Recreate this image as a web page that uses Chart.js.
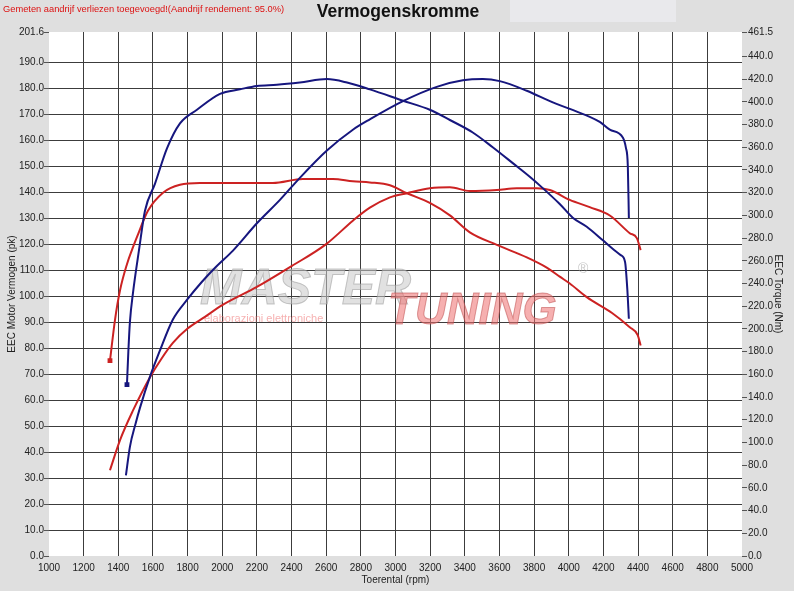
<!DOCTYPE html>
<html lang="nl">
<head>
    <meta charset="UTF-8">
    <title>Vermogenskromme</title>
    <script src="https://cdn.jsdelivr.net/npm/chart.js"></script>
    <style>
        body {
            margin: 0;
            background-color: #dfdfdf;
        }
        #wrap {
            width: 794px;
            height: 591px;
            position: relative;
        }
    </style>
</head>
<body>
    <div id="wrap"><canvas id="chart"></canvas></div>

    <script>
        // Blue run: torque (Nm, right axis) and power (pk, left axis)
        const blueTorqueRpm = [1450, 1458, 1467, 1485, 1520, 1554, 1612, 1681, 1756, 1854, 1987, 2102, 2200, 2315, 2448, 2604, 2720, 2852, 3043, 3198, 3314, 3446, 3561, 3677, 3775, 3850, 3948, 4023, 4104, 4197, 4250, 4300, 4325, 4338, 4347];
        const blueTorqueNm = [151, 180, 206, 232, 270, 304, 328, 359, 381, 393, 407, 411, 414, 415, 417, 420, 417, 411, 401, 393, 384, 373, 360, 346, 334, 324, 310, 298, 290, 278, 271, 265, 259, 235, 209];

        const bluePowerRpm = [1444, 1467, 1500, 1525, 1583, 1640, 1715, 1796, 1883, 1960, 2062, 2200, 2333, 2448, 2604, 2754, 2852, 3043, 3238, 3389, 3504, 3602, 3758, 3908, 4006, 4179, 4237, 4312, 4330, 4341, 4347];
        const bluePowerPk = [31, 42, 51, 57, 69, 79, 91, 98.5, 105.5, 111, 117.5, 128, 137, 145.5, 156, 164, 168, 175, 180.5, 183, 183.5, 182.7, 179, 174.5, 172, 167, 164, 161, 157, 150, 130];

        // Red run: torque (Nm, right axis) and power (pk, left axis)
        const redTorqueRpm = [1352, 1381, 1410, 1450, 1480, 1508, 1571, 1658, 1756, 1871, 2062, 2292, 2465, 2639, 2754, 2852, 2968, 3066, 3198, 3314, 3429, 3585, 3758, 3873, 3948, 4006, 4104, 4250, 4352, 4398, 4415];
        const redTorqueNm = [172, 208, 234, 257, 270, 281, 304, 320, 327, 328.5, 328.5, 328.5, 332, 332, 330, 329, 326.5, 319.5, 311, 300, 285, 274, 263, 254, 246, 240, 228, 214, 201.5, 194.6, 185.4];

        const redPowerRpm = [1352, 1410, 1485, 1583, 1650, 1715, 1800, 1900, 2000, 2200, 2400, 2600, 2754, 2852, 2968, 3066, 3198, 3314, 3429, 3585, 3700, 3816, 3891, 4006, 4121, 4237, 4352, 4393, 4415];
        const redPowerPk = [33, 44.6, 56, 68.8, 76, 82, 87.5, 92, 96.5, 103.5, 111.5, 120, 129, 134, 138, 139.6, 141.5, 141.9, 140.4, 140.8, 141.5, 141.5, 140.8, 137, 134.2, 131, 124.2, 122.3, 117.7];

        // Axis ticks
        const rpmTicks = [1000, 1200, 1400, 1600, 1800, 2000, 2200, 2400, 2600, 2800, 3000, 3200, 3400, 3600, 3800, 4000, 4200, 4400, 4600, 4800, 5000];
        const pkTicks = [0, 10, 20, 30, 40, 50, 60, 70, 80, 90, 100, 110, 120, 130, 140, 150, 160, 170, 180, 190, 201.6];
        const nmTicks = [0, 20, 40, 60, 80, 100, 120, 140, 160, 180, 200, 220, 240, 260, 280, 300, 320, 340, 360, 380, 400, 420, 440, 461.5];

        const chartTitle = 'Vermogenskromme';
        const noteText = 'Gemeten aandrijf verliezen toegevoegd!(Aandrijf rendement: 95.0%)';

        const BLUE = '#16167e';
        const RED = '#cc2222';
        const FONT = 'Liberation Sans, Arial, sans-serif';

        function points(xs, ys) {
            return xs.map((x, i) => ({ x: x, y: ys[i] }));
        }

        // gray frame, white plot area, header texts and the watermark logo
        const decor = {
            id: 'decor',
            beforeDraw(chart) {
                const c = chart.ctx;
                const a = chart.chartArea;
                c.save();
                c.fillStyle = '#dfdfdf';
                c.fillRect(0, 0, chart.width, chart.height);
                c.fillStyle = '#e9e9ec';
                c.fillRect(510, 0, 166, 22);
                c.fillStyle = '#ffffff';
                c.fillRect(a.left, a.top, a.right - a.left, a.bottom - a.top);
                c.restore();
            },
            beforeDatasetsDraw(chart) {
                const c = chart.ctx;
                c.save();
                c.globalAlpha = 0.55;
                c.font = 'italic bold 50px ' + FONT;
                c.textBaseline = 'alphabetic';
                c.fillStyle = '#c8c8c8';
                c.strokeStyle = '#9a9a9a';
                c.lineWidth = 1;
                c.fillText('MASTER', 200, 304);
                c.strokeText('MASTER', 200, 304);
                c.font = 'italic bold 44px ' + FONT;
                c.fillStyle = '#ee7070';
                c.strokeStyle = '#c05050';
                c.fillText('TUNING', 388, 324);
                c.strokeText('TUNING', 388, 324);
                c.font = '11px ' + FONT;
                c.fillStyle = '#ee7070';
                c.fillText('elaborazioni elettroniche', 204, 322);
                c.font = '14px ' + FONT;
                c.fillStyle = '#999999';
                c.fillText('\u00AE', 578, 273);
                c.restore();
            },
            afterDraw(chart) {
                const c = chart.ctx;
                c.save();
                c.textBaseline = 'middle';
                c.fillStyle = '#111111';
                c.font = 'bold 17.5px ' + FONT;
                c.textAlign = 'center';
                c.fillText(chartTitle, 398, 12);
                c.fillStyle = '#dd1111';
                c.font = '9.3px ' + FONT;
                c.textAlign = 'left';
                c.fillText(noteText, 3, 9);
                c.restore();
            }
        };

        const tickFont = { family: FONT, size: 10 };
        const hideEdges = (edges) => (ctx) => {
            if (ctx.tick && edges.includes(ctx.tick.value)) return 'rgba(0,0,0,0)';
            return '#3c3c3c';
        };

        const ctx = document.getElementById('chart').getContext('2d');
        const chart = new Chart(ctx, {
            type: 'line',
            data: {
                datasets: [
                    {
                        label: 'Blue torque',
                        data: points(blueTorqueRpm, blueTorqueNm),
                        yAxisID: 'y1',
                        borderColor: BLUE,
                        borderWidth: 2,
                        pointRadius: (c) => c.dataIndex === 0 ? 2 : 0,
                        pointStyle: 'rect',
                        pointBackgroundColor: BLUE,
                        cubicInterpolationMode: 'monotone'
                    },
                    {
                        label: 'Blue power',
                        data: points(bluePowerRpm, bluePowerPk),
                        yAxisID: 'y',
                        borderColor: BLUE,
                        borderWidth: 2,
                        pointRadius: 0,
                        cubicInterpolationMode: 'monotone'
                    },
                    {
                        label: 'Red torque',
                        data: points(redTorqueRpm, redTorqueNm),
                        yAxisID: 'y1',
                        borderColor: RED,
                        borderWidth: 2,
                        pointRadius: (c) => c.dataIndex === 0 ? 2 : 0,
                        pointStyle: 'rect',
                        pointBackgroundColor: RED,
                        cubicInterpolationMode: 'monotone'
                    },
                    {
                        label: 'Red power',
                        data: points(redPowerRpm, redPowerPk),
                        yAxisID: 'y',
                        borderColor: RED,
                        borderWidth: 2,
                        pointRadius: 0,
                        cubicInterpolationMode: 'monotone'
                    }
                ]
            },
            options: {
                responsive: true,
                maintainAspectRatio: false,
                animation: false,
                layout: { padding: { top: 32, left: 0, right: 0, bottom: 0 } },
                plugins: {
                    legend: { display: false },
                    tooltip: { enabled: false }
                },
                scales: {
                    x: {
                        type: 'linear',
                        min: 1000,
                        max: 5000,
                        afterBuildTicks: (s) => { s.ticks = rpmTicks.map(v => ({ value: v })); },
                        afterFit: (s) => { s.height = 35; },
                        border: { display: false },
                        grid: { color: hideEdges([1000, 5000]), lineWidth: 1, drawTicks: false },
                        ticks: {
                            font: tickFont,
                            color: '#222',
                            padding: 6,
                            maxRotation: 0,
                            autoSkip: false,
                            callback: (v) => String(v)
                        },
                        title: {
                            display: true,
                            text: 'Toerental (rpm)',
                            font: tickFont,
                            color: '#222',
                            padding: { top: 0, bottom: 5 }
                        }
                    },
                    y: {
                        position: 'left',
                        min: 0,
                        max: 201.6,
                        afterBuildTicks: (s) => { s.ticks = pkTicks.map(v => ({ value: v })); },
                        afterFit: (s) => { s.width = 49; },
                        border: { display: false },
                        grid: { color: hideEdges([0, 201.6]), tickColor: '#555', tickLength: 5, lineWidth: 1 },
                        ticks: {
                            font: tickFont,
                            color: '#222',
                            padding: 0,
                            autoSkip: false,
                            callback: (v) => Number(v).toFixed(1)
                        },
                        title: {
                            display: true,
                            text: 'EEC Motor Vermogen (pk)',
                            font: tickFont,
                            color: '#222',
                            padding: { top: 6, bottom: 0 }
                        }
                    },
                    y1: {
                        position: 'right',
                        min: 0,
                        max: 461.5,
                        afterBuildTicks: (s) => { s.ticks = nmTicks.map(v => ({ value: v })); },
                        afterFit: (s) => { s.width = 52; },
                        border: { display: false },
                        grid: { drawOnChartArea: false, tickColor: '#555', tickLength: 5 },
                        ticks: {
                            font: tickFont,
                            color: '#222',
                            padding: 1,
                            autoSkip: false,
                            callback: (v) => Number(v).toFixed(1)
                        },
                        title: {
                            display: true,
                            text: 'EEC Torque (Nm)',
                            font: tickFont,
                            color: '#222',
                            padding: { top: 10, bottom: 0 }
                        }
                    }
                }
            },
            plugins: [decor]
        });
    </script>
</body>
</html>
